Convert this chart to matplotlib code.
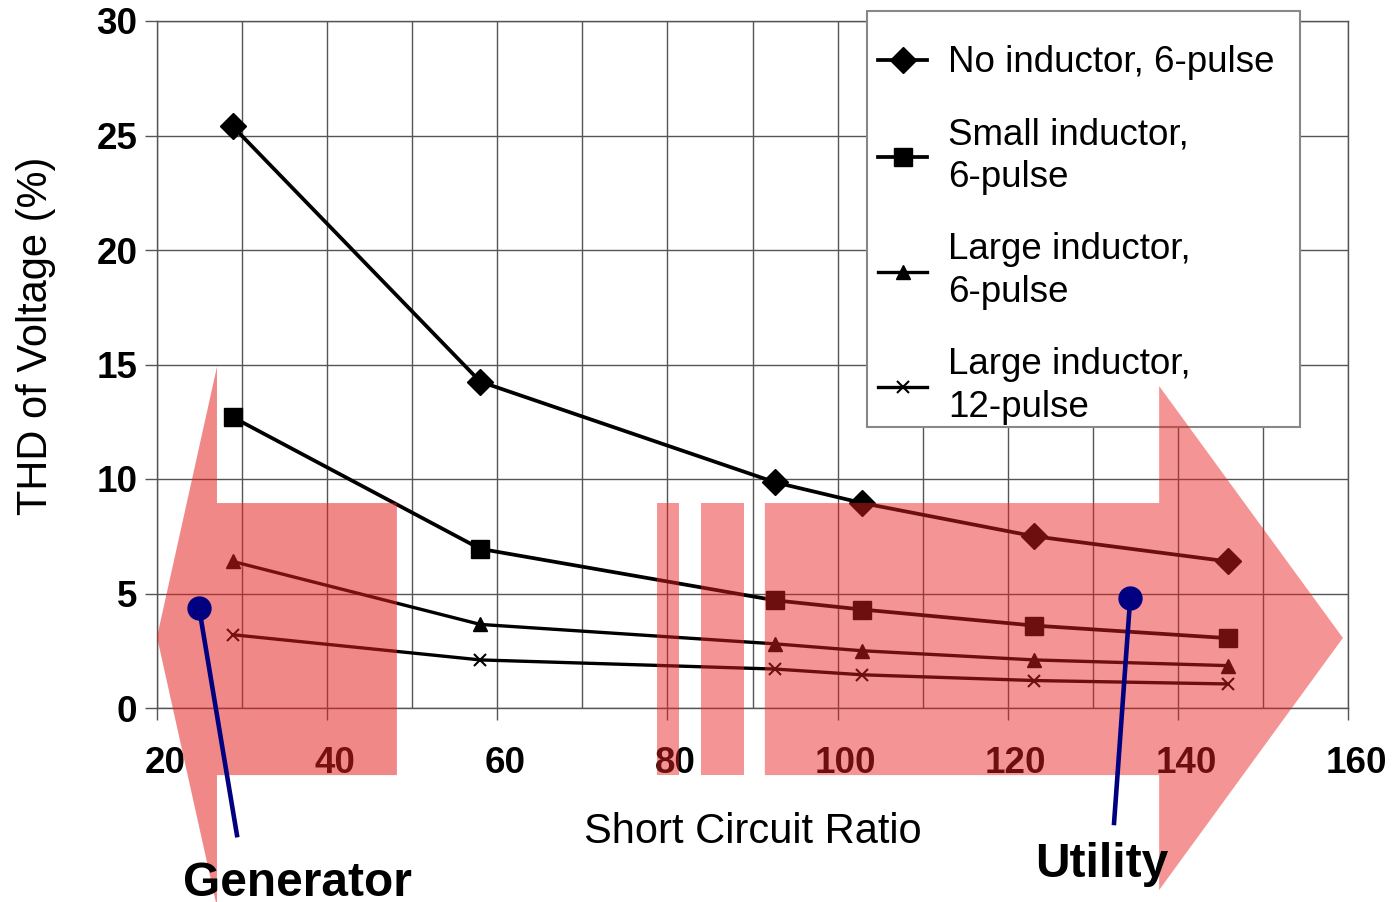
import matplotlib
matplotlib.use('Agg')
from matplotlib import pyplot as plt
from matplotlib.patches import Polygon, Rectangle
from matplotlib.transforms import ScaledTranslation

plt.rcParams['font.family'] = ['Liberation Sans', 'DejaVu Sans']

# short circuit ratio values (x) and THD for each drive setup
scr = [28.9, 58.0, 92.7, 102.9, 123.1, 145.9]
no_ind_6p = [25.4, 14.25, 9.85, 8.95, 7.5, 6.4]
small_ind_6p = [12.7, 6.95, 4.7, 4.3, 3.6, 3.05]
large_ind_6p = [6.4, 3.65, 2.8, 2.5, 2.1, 1.85]
large_ind_12p = [3.2, 2.1, 1.7, 1.45, 1.2, 1.05]

labels = ['No inductor, 6-pulse', 'Small inductor,\n6-pulse',
          'Large inductor,\n6-pulse', 'Large inductor,\n12-pulse']
x_ticks = [20, 40, 60, 80, 100, 120, 140, 160]
y_ticks = [0, 5, 10, 15, 20, 25, 30]

fig = plt.figure(figsize=(13.94, 9.02), dpi=100)
ax = fig.add_axes([157/1394, 194/902, 1191/1394, 687/902])

ax.plot(scr, no_ind_6p, color='black', lw=2.7, marker='D', ms=13, label=labels[0], zorder=3)
ax.plot(scr, small_ind_6p, color='black', lw=2.7, marker='s', ms=13.5, label=labels[1], zorder=3)
ax.plot(scr, large_ind_6p, color='black', lw=2.4, marker='^', ms=9.5, label=labels[2], zorder=3)
ax.plot(scr, large_ind_12p, color='black', lw=2.4, marker='x', ms=9, mew=1.5, label=labels[3], zorder=3)

ax.set_xlim(20, 160)
ax.set_ylim(0, 30)
ax.set_xticks(x_ticks)
ax.set_xticks(range(30, 160, 20), minor=True)
ax.set_yticks(y_ticks)
ax.tick_params(axis='x', which='major', length=8.6, width=1, color='#555555', pad=19,
               labelsize=26.5)
ax.tick_params(axis='x', which='minor', length=0)
ax.tick_params(axis='y', length=8.6, width=1, color='#555555', pad=5.5, labelsize=26.5)
for lab in ax.get_xticklabels() + ax.get_yticklabels():
    lab.set_fontweight('bold')
off = ScaledTranslation(8/100, 0, fig.dpi_scale_trans)
for lab in ax.get_xticklabels():
    lab.set_transform(lab.get_transform() + off)

ax.grid(which='both', color='#555555', lw=1)
ax.set_axisbelow(True)
for s in ax.spines.values():
    s.set_color('#555555')
    s.set_linewidth(1)

ax.set_xlabel('Short Circuit Ratio', fontsize=30, va='baseline')
ax.xaxis.set_label_coords(0.5, -0.1965)
ax.set_ylabel('THD of Voltage (%)', fontsize=30, va='center')
ax.yaxis.set_label_coords(-0.1012, 0.5415)

# legend box drawn by hand so the padding can differ top/side
ax.add_patch(Rectangle((0.5961, 0.409), 0.3636, 0.6056, transform=ax.transAxes,
                       facecolor='white', edgecolor='#888888', lw=1.5,
                       clip_on=False, zorder=4.9))
leg = ax.legend(loc='upper left', bbox_to_anchor=(0.6054, 0.9645), borderaxespad=0,
                fontsize=26.5, frameon=False, borderpad=0, labelspacing=1.0,
                handlelength=1.33, handletextpad=0.57)
for t in leg.get_texts():
    t.set_linespacing(1.3)

# red overlay arrows: generator side (left) and utility side (right)
left_arrow = Polygon([(20, 3.1), (27.05, 14.9), (27.05, 8.95), (48.2, 8.95), (48.2, -2.93),
                      (27.05, -2.93), (27.05, -8.7)], closed=True,
                     facecolor=(0.90, 0.12, 0.12), alpha=0.53, lw=0, clip_on=False, zorder=6)
ax.add_patch(left_arrow)
for x0, x1 in [(78.8, 81.35), (83.95, 89.0)]:
    ax.add_patch(Rectangle((x0, -2.93), x1 - x0, 11.88, facecolor=(0.91, 0.13, 0.13),
                           alpha=0.48, lw=0, clip_on=False, zorder=6))
right_arrow = Polygon([(91.45, 8.95), (137.8, 8.95), (137.8, 14.06), (159.4, 3.06),
                       (137.8, -7.95), (137.8, -2.93), (91.45, -2.93)], closed=True,
                      facecolor=(0.91, 0.13, 0.13), alpha=0.48, lw=0, clip_on=False, zorder=6)
ax.add_patch(right_arrow)

# pointers
ax.plot([24.95, 29.4], [4.37, -5.55], color='#000080', lw=3.3, clip_on=False, zorder=7)
ax.plot([24.95], [4.37], 'o', color='#000080', ms=16.5, clip_on=False, zorder=7)
ax.plot([134.4, 132.5], [4.8, -5.02], color='#000080', lw=3.3, clip_on=False, zorder=7)
ax.plot([134.4], [4.8], 'o', color='#000080', ms=16.5, clip_on=False, zorder=7)
ax.text(36.45, -8.2, 'Generator', fontsize=34.5, fontweight='bold', ha='center',
        va='baseline', zorder=8)
ax.text(131.1, -7.38, 'Utility', fontsize=34.5, fontweight='bold', ha='center',
        va='baseline', zorder=8)

fig.savefig('out.png', dpi=100)
